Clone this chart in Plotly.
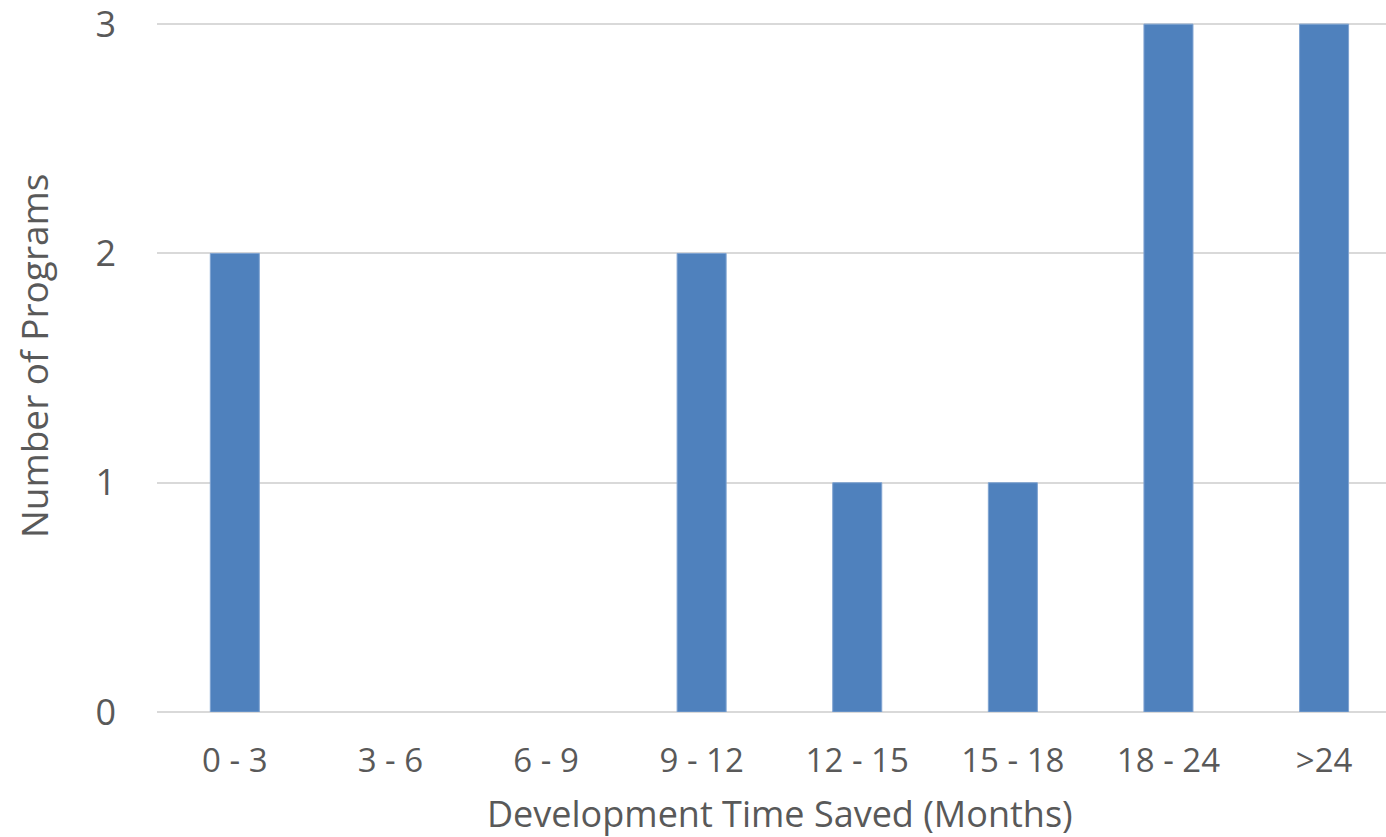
import plotly.graph_objects as go

categories = ["0 - 3", "3 - 6", "6 - 9", "9 - 12", "12 - 15", "15 - 18", "18 - 24", ">24"]
programs = [2, 0, 0, 2, 1, 1, 3, 3]
y_ticks = [0, 1, 2, 3]
x_title = "Development Time Saved (Months)"
y_title = "Number of Programs"

FONT = "Open Sans"
TXT = "#595959"

fig = go.Figure()
fig.add_trace(go.Bar(
    x=categories,
    y=programs,
    width=0.315,
    marker=dict(color="#4F81BD",
                line=dict(color="#7FA3D1", width=[1 if v > 0 else 0 for v in programs])),
))

fig.update_layout(
    width=1386,
    height=837,
    margin=dict(l=157, r=0, t=23, b=125),
    paper_bgcolor="white",
    plot_bgcolor="white",
    showlegend=False,
    font=dict(family=FONT, color=TXT),
    xaxis=dict(
        type="category",
        range=[-0.5, 7.398],
        showgrid=False,
        showline=False,
        zeroline=False,
        ticks="",
        tickfont=dict(size=33, color=TXT, family=FONT),
        ticklabelstandoff=26,
    ),
    yaxis=dict(
        range=[0, 3.005],
        tickvals=y_ticks,
        showgrid=True,
        gridcolor="#D9D9D9",
        gridwidth=2,
        zeroline=True,
        zerolinecolor="#D9D9D9",
        zerolinewidth=2,
        showline=False,
        ticks="",
        tickfont=dict(size=36, color=TXT, family=FONT),
        ticklabelstandoff=40,
        ticklabeloverflow="allow",
    ),
    annotations=[
        dict(text=x_title, xref="paper", yref="paper", x=0.507, y=-0.147,
             xanchor="center", yanchor="middle", showarrow=False,
             font=dict(size=36, color=TXT, family=FONT)),
        dict(text=y_title, xref="paper", yref="paper", x=-0.1009, y=0.518,
             xanchor="center", yanchor="middle", showarrow=False, textangle=-90,
             font=dict(size=37, color=TXT, family=FONT)),
    ],
)

fig.write_html("out.html")
